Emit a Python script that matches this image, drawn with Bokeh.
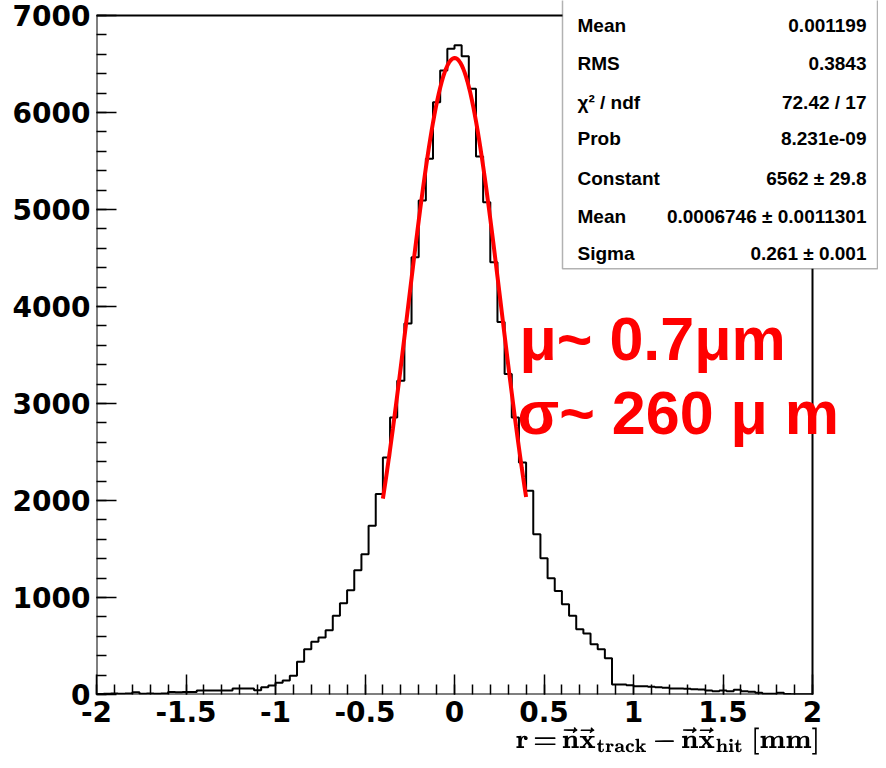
import numpy as np
from bokeh.plotting import figure
from bokeh.models import (Range1d, SingleIntervalTicker, FixedTicker, CustomJSTickFormatter,
                          BoxAnnotation, Label)
from bokeh.embed import file_html
from bokeh.resources import INLINE

# ---------------- data ----------------
x_lo, x_hi, n_bins = -2.0, 2.0, 100
y_lo, y_hi = 0, 7000
counts = [6, 8, 10, 9, 10, 24, 9, 10, 8, 10,
          25, 24, 26, 25, 40, 41, 40, 42, 41, 62,
          61, 62, 43, 76, 93, 121, 145, 193, 338, 466,
          545, 587, 662, 811, 940, 1075, 1282, 1447, 1739, 2066,
          2444, 2857, 3235, 3825, 4508, 5093, 5523, 6107, 6434, 6658,
          6693, 6579, 6245, 5547, 5076, 4456, 3840, 3304, 2857, 2392,
          2100, 1653, 1405, 1199, 1068, 931, 811, 673, 628, 518,
          466, 373, 103, 103, 96, 86, 86, 79, 76, 69,
          62, 62, 60, 55, 52, 41, 34, 41, 34, 48,
          34, 28, 17, 8, 8, 17, 4, 3, 3, 3]

x_major = [-2, -1.5, -1, -0.5, 0, 0.5, 1, 1.5, 2]
x_minor = [round(-2 + 0.1 * i, 1) for i in range(41)]

# Gaussian fit parameters (from the stats box)
fit_const = 6562.0
fit_mean = 0.0006746
fit_sigma = 0.261
fit_range = (-0.4, 0.4)

stat_labels = ["Mean", "RMS", "\u03c7\u00b2 / ndf", "Prob", "Constant", "Mean", "Sigma"]
stat_values = ["0.001199", "0.3843", "72.42 / 17", "8.231e-09",
               "6562 \u00b1 29.8", "0.0006746 \u00b1 0.0011301", "0.261 \u00b1 0.001"]

annot_lines = ["\u03bc~ 0.7\u03bcm", "\u03c3~ 260 \u03bc m"]
x_title = (r"\(\hspace{13.3em}\mathbf{r\,{=}\,\vec{n}\vec{x}_{track}\,{-}\,"
           r"\vec{n}\vec{x}_{hit}\ [mm]}\)")

# ---------------- geometry helpers (reference pixel -> data) ----------------
PX_PER_X = 179.0
def fx(rx):
    return -2.0 + (rx - 96.0) / PX_PER_X

def fy(ry):
    return (693.5 - ry) / 678.5 * 7000.0

# ---------------- figure ----------------
# the frame is widened to the right and up so the stats box can reach the page edge;
# the histogram frame itself is drawn with segments
p = figure(width=878, height=760, output_backend="svg", toolbar_location=None,
           x_range=Range1d(x_lo, fx(878)), y_range=Range1d(y_lo, fy(0)),
           min_border_left=96, min_border_right=0, min_border_top=0,
           min_border_bottom=66, title=None)
p.grid.visible = False
p.background_fill_color = "white"
p.border_fill_color = "white"
p.outline_line_color = None

xa, ya = p.xaxis[0], p.yaxis[0]
xa.ticker = FixedTicker(ticks=x_major, minor_ticks=x_minor)
ya.ticker = SingleIntervalTicker(interval=1000, num_minor_ticks=5)
for ax in (xa, ya):
    ax.major_tick_in = 20
    ax.major_tick_out = 0
    ax.minor_tick_in = 10
    ax.minor_tick_out = 0
    ax.axis_line_color = None
    ax.major_tick_line_width = 1.5
    ax.minor_tick_line_width = 1.5
    ax.major_label_text_font = "DejaVu Sans"
    ax.major_label_text_font_style = "bold"
    ax.major_label_text_font_size = "28px"
    ax.major_label_text_color = "black"
    ax.formatter = CustomJSTickFormatter(code="return String(Math.round(tick*10)/10);")
xa.major_label_standoff = 6
ya.major_label_standoff = 6
xa.axis_label = x_title
xa.axis_label_text_font_size = "22px"
xa.axis_label_text_color = "black"
xa.axis_label_standoff = 0
xa.axis_label_align = "center"

# frame lines (left, bottom, top, right) of the histogram area
p.segment(x0=[x_lo, x_lo, x_lo, x_hi], y0=[y_lo, y_lo, y_hi, y_lo],
          x1=[x_lo, x_hi, x_hi, x_hi], y1=[y_hi, y_lo, y_hi, y_hi],
          line_color="black", line_width=2)

# histogram outline
edges = np.linspace(x_lo, x_hi, n_bins + 1)
hx, hy = [edges[0]], [0]
for i, c in enumerate(counts):
    hx += [edges[i], edges[i + 1]]
    hy += [c, c]
hx.append(edges[-1]); hy.append(0)
p.line(hx, hy, line_color="black", line_width=2)

# fit curve
fxs = np.linspace(fit_range[0], fit_range[1], 101)
fys = fit_const * np.exp(-0.5 * ((fxs - fit_mean) / fit_sigma) ** 2)
p.line(fxs, fys, line_color="red", line_width=4)

# stats box
p.add_layout(BoxAnnotation(left=fx(562), right=fx(877), bottom=fy(268), top=fy(-12),
                           fill_color="white", fill_alpha=1.0,
                           line_color="black", line_width=1.5, level="overlay"))
row_y = [25, 63, 102, 138, 178, 216, 253]
for lab, val, ry in zip(stat_labels, stat_values, row_y):
    p.add_layout(Label(x=fx(577), y=fy(ry), text=lab, text_align="left",
                       text_baseline="middle", text_font="Liberation Sans",
                       text_font_style="bold", text_font_size="19px",
                       text_color="black", level="overlay"))
    p.add_layout(Label(x=fx(866), y=fy(ry), text=val, text_align="right",
                       text_baseline="middle", text_font="Liberation Sans",
                       text_font_style="bold", text_font_size="19px",
                       text_color="black", level="overlay"))

# red annotation
for txt, rx, ry in zip(annot_lines, [519, 517], [338, 412]):
    p.add_layout(Label(x=fx(rx), y=fy(ry), text=txt, text_align="left",
                       text_baseline="alphabetic", text_font="Liberation Sans",
                       text_font_style="bold", text_font_size="61px",
                       text_color="red"))

open("out.html", "w").write(file_html(p, INLINE))
